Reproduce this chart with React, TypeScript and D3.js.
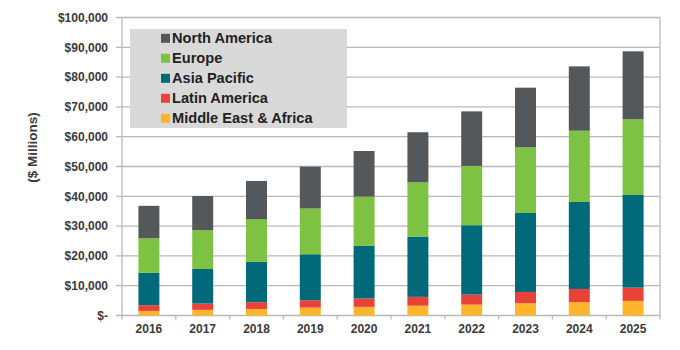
import React from "react";
import * as d3 from "d3";

const years = ["2016", "2017", "2018", "2019", "2020", "2021", "2022", "2023", "2024", "2025"];
const middleEastAfrica = [1540, 1900, 2200, 2650, 2900, 3300, 3650, 4100, 4450, 4900];
const latinAmerica = [1910, 2100, 2250, 2450, 2800, 2950, 3350, 3800, 4450, 4450];
const asiaPacific = [10850, 11600, 13550, 15450, 17650, 20250, 23300, 26500, 29200, 31100];
const europe = [11600, 13000, 14300, 15350, 16550, 18200, 19900, 22050, 23900, 25400];
const northAmerica = [10900, 11500, 12850, 14050, 15300, 16800, 18300, 20000, 21600, 22800];
const yTicks = [0, 10000, 20000, 30000, 40000, 50000, 60000, 70000, 80000, 90000, 100000];

const seriesNames = ["Middle East & Africa", "Latin America", "Asia Pacific", "Europe", "North America"];
const seriesValues = [middleEastAfrica, latinAmerica, asiaPacific, europe, northAmerica];
const seriesColors = ["#fdb52b", "#ea4139", "#006a7b", "#7dc242", "#55585a"];

export default function App() {
  const W = 680, H = 350;
  const left = 122, right = 660, top = 17.5, bottom = 315.5;
  const font = "Liberation Sans, Arial, sans-serif";

  const x = d3.scaleBand<string>().domain(years).range([left, right]).paddingInner(0.61).paddingOuter(0.305);
  const band = (right - left) / years.length;
  const y = d3.scaleLinear().domain([0, 100000]).range([bottom, top]);

  const rows = years.map((yr, i) => {
    const r: any = { year: yr };
    seriesNames.forEach((n, k) => (r[n] = seriesValues[k][i]));
    return r;
  });
  const stacked = d3.stack<any>().keys(seriesNames)(rows);
  const fmt = (v: number) => (v === 0 ? "$-" : "$" + d3.format(",")(v));

  const legendOrder = [4, 3, 2, 1, 0];

  return (
    <svg width={W} height={H} style={{ position: "absolute", left: 0, top: 0, background: "#fff" }}>
      {yTicks.map((t) => (
        <g key={t}>
          <line x1={left - 6} x2={right} y1={y(t)} y2={y(t)} stroke="#b8b8b8" strokeWidth={1.3} />
          <text x={108} y={y(t)} dy="0.35em" textAnchor="end" fontFamily={font} fontWeight="bold" fontSize={12} fill="#3a3a3a">
            {fmt(t)}
          </text>
        </g>
      ))}
      <line x1={left} x2={left} y1={top} y2={bottom} stroke="#b8b8b8" strokeWidth={1.3} />
      <line x1={right} x2={right} y1={top} y2={bottom + 4} stroke="#b8b8b8" strokeWidth={1.3} />
      {years.map((yr, i) => (
        <line key={"tk" + yr} x1={left + i * band} x2={left + i * band} y1={bottom} y2={bottom + 4} stroke="#b8b8b8" strokeWidth={1.3} />
      ))}
      {stacked.map((s, k) => (
        <g key={s.key} fill={seriesColors[k]}>
          {s.map((d, i) => (
            <rect key={i} x={x(years[i])} width={x.bandwidth()} y={y(d[1])} height={y(d[0]) - y(d[1])} />
          ))}
        </g>
      ))}
      {years.map((yr) => (
        <text key={"xl" + yr} x={(x(yr) as number) + x.bandwidth() / 2} y={329} dy="0.35em" textAnchor="middle" fontFamily={font} fontWeight="bold" fontSize={12} fill="#3a3a3a">
          {yr}
        </text>
      ))}
      <text transform="translate(32,147.5) rotate(-90)" textAnchor="middle" dy="0.35em" fontFamily={font} fontWeight="bold" fontSize={13.5} fill="#3a3a3a">
        ($ Millions)
      </text>
      <rect x={130} y={29} width={217} height={99} fill="#d9d9d9" />
      {legendOrder.map((k, j) => (
        <g key={"lg" + k}>
          <rect x={161} y={38.3 + j * 20 - 4.5} width={9} height={9} fill={seriesColors[k]} />
          <text x={172} y={38.3 + j * 20} dy="0.35em" fontFamily={font} fontWeight="bold" fontSize={14.6} fill="#222">
            {seriesNames[k]}
          </text>
        </g>
      ))}
    </svg>
  );
}
